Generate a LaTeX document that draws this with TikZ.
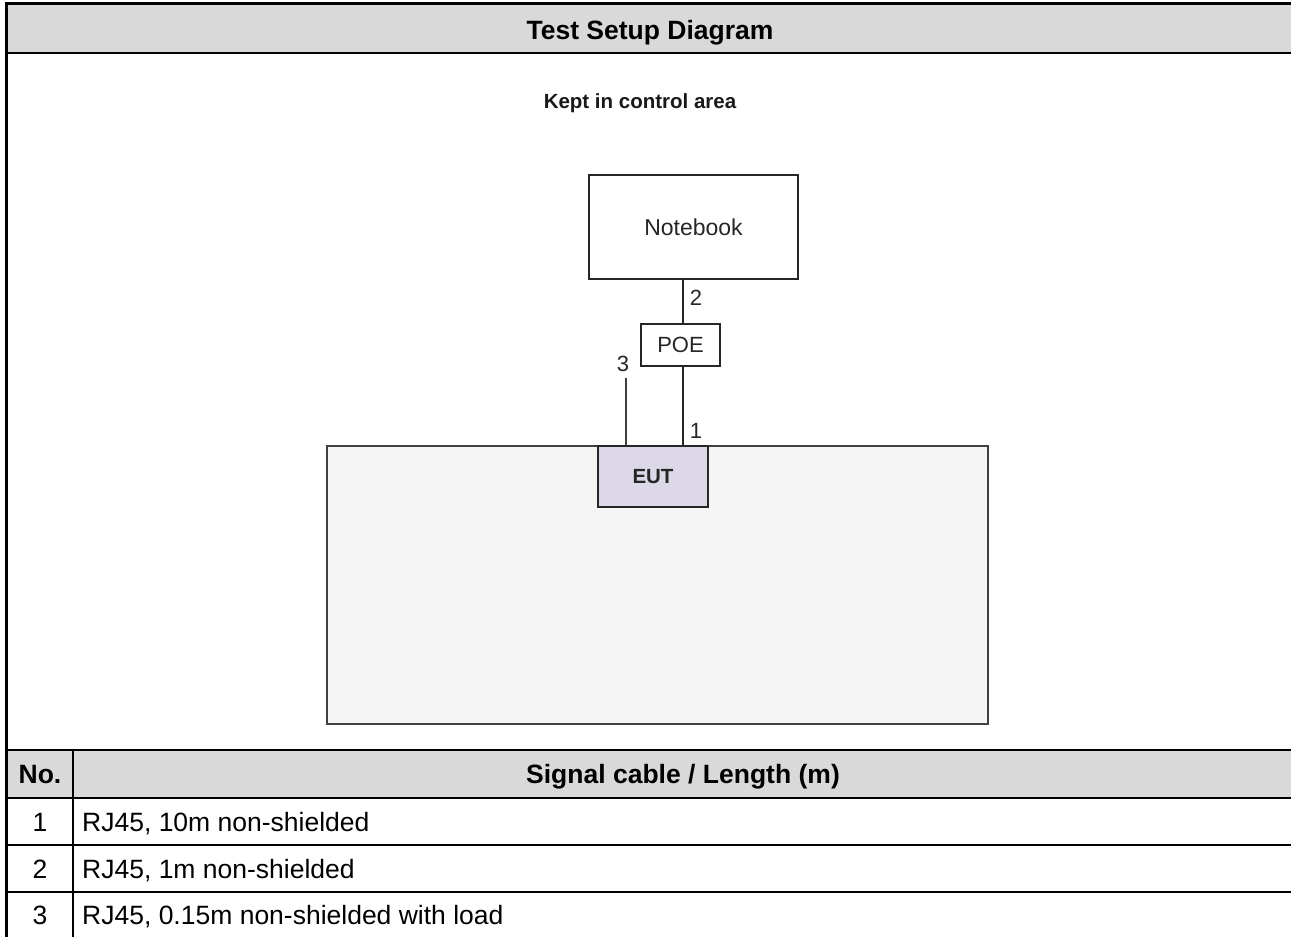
\documentclass[tikz,border=0pt]{standalone}
\usepackage{fontspec}
\setmainfont{Liberation Sans}
\begin{document}
\begin{tikzpicture}[x=1pt,y=-1pt,
  frame/.style={line width=3pt,black},
  rule/.style={line width=2pt,black},
  thinrule/.style={line width=1.3pt,black},
  boxnode/.style={draw=black!85,line width=1.3pt,fill=white,inner sep=0pt,
    font=\fontsize{23}{27}\selectfont,text=black!85},
  cell/.style={font=\fontsize{26.5}{30}\selectfont,inner sep=0pt,anchor=base},
  headcell/.style={font=\bfseries\fontsize{26.5}{30}\selectfont,inner sep=0pt,anchor=base},
  cablelabel/.style={font=\fontsize{22}{26}\selectfont,text=black!85,inner sep=0pt}]
\useasboundingbox (0,0) rectangle (1291,937);
% header bands
\fill[fill=black!15] (6,3) rectangle (1291,52.5);
\fill[fill=black!15] (6,750) rectangle (1291,798);
% table rules
\draw[rule] (6,52.5) -- (1291,52.5);
\draw[rule] (6,750) -- (1291,750);
\draw[rule] (6,798) -- (1291,798);
\draw[rule] (6,845) -- (1291,845);
\draw[rule] (6,891.5) -- (1291,891.5);
\draw[thinrule] (73,750) -- (73,937);
\draw[frame] (1291,3.5) -- (6.5,3.5) -- (6.5,937);
% titles (placed on their baselines)
\node[headcell] (title) at (650,39.5) {Test Setup Diagram};
\node[headcell] (hno) at (40,783.5) {No.};
\node[headcell] (hcable) at (683,783.5) {Signal cable / Length (m)};
% cable list
\node[cell] (n1) at (40,831.5) {1};
\node[cell] (n2) at (40,878) {2};
\node[cell] (n3) at (40,924) {3};
\node[cell,anchor=base west] (t1) at (82,831.5) {RJ45, 10m non-shielded};
\node[cell,anchor=base west] (t2) at (82,878) {RJ45, 1m non-shielded};
\node[cell,anchor=base west] (t3) at (82,924) {RJ45, 0.15m non-shielded with load};
% setup drawing
\node[font=\bfseries\fontsize{20.5}{24}\selectfont,text=black!90] (area) at (640,103) {Kept in control area};
\draw[draw=black!75,line width=1.3pt,fill=black!4] (327,446) rectangle (988,724);
\node[boxnode,minimum width=209pt,minimum height=104pt] (nb) at (693.5,227) {Notebook};
\node[boxnode,minimum width=79pt,minimum height=42pt,font=\fontsize{22}{26}\selectfont] (poe) at (680.5,345) {POE};
\node[boxnode,fill={rgb,255:red,221;green,216;blue,231},minimum width=110pt,minimum height=61pt,
  font=\bfseries\fontsize{20.5}{24}\selectfont] (eut) at (653,476.5) {EUT};
\coordinate (c3) at (626,378);
\draw[line width=1.3pt,black!85] (poe.north -| 683,0) -- (nb.south -| 683,0);
\draw[line width=1.3pt,black!85] (poe.south -| 683,0) -- (eut.north -| 683,0);
\draw[line width=1.3pt,black!75] (c3) -- (c3 |- eut.north);
\node[cablelabel] (l2) at (696,298) {2};
\node[cablelabel] (l3) at (623,364) {3};
\node[cablelabel] (l1) at (696,431) {1};
\end{tikzpicture}
\end{document}
